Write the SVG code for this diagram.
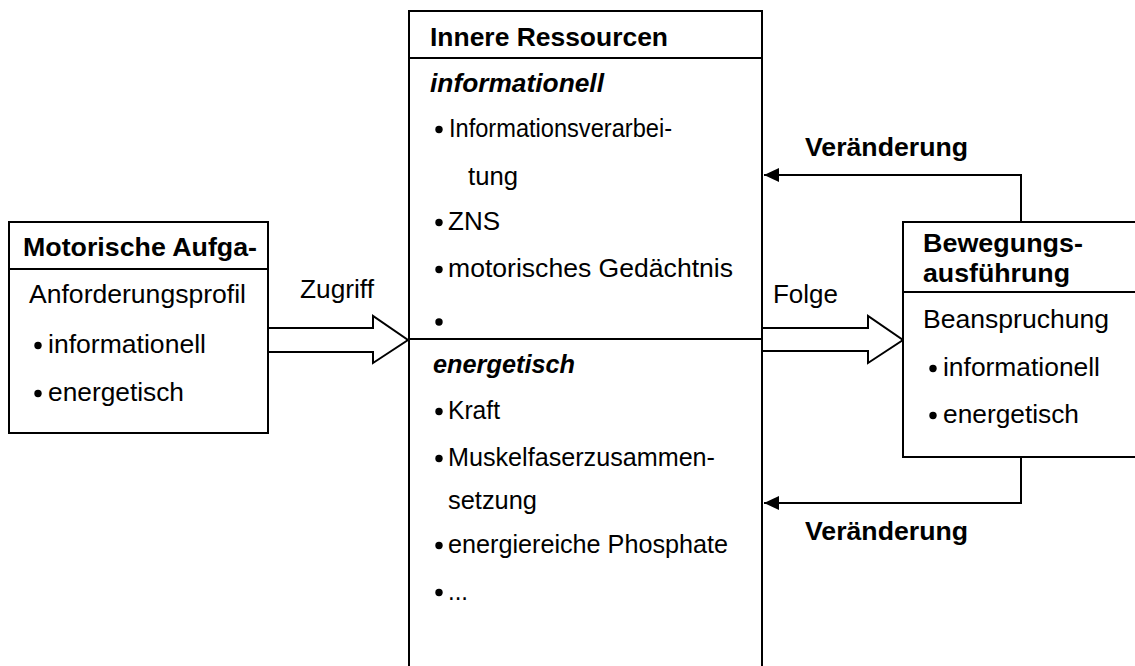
<svg xmlns="http://www.w3.org/2000/svg" width="1135" height="666" viewBox="0 0 1135 666">
<defs>
<style>
.box{fill:#fff;stroke:#000;stroke-width:2}
.ln{fill:none;stroke:#000;stroke-width:2}
.t{font-family:"Liberation Sans",Arial,sans-serif;font-size:26px;fill:#000}
.b{font-weight:bold}
.bi{font-weight:bold;font-style:italic}
.dot{fill:#000}
</style>
<marker id="ah" markerWidth="16" markerHeight="14" refX="15" refY="7" orient="auto" markerUnits="userSpaceOnUse">
<path d="M0,0 L15,7 L0,14 Z" fill="#000"/>
</marker>
</defs>
<rect width="1135" height="666" fill="#fff"/>
<g id="connectors">
<polygon class="box" points="268,328 373,328 373,316 408,340 373,363 373,352 268,352"/>
<text class="t" x="300" y="298" textLength="74" lengthAdjust="spacingAndGlyphs">Zugriff</text>
<polygon class="box" points="762,328 868,328 868,316 903,340 868,363 868,351 762,351"/>
<text class="t" x="773" y="303" textLength="65" lengthAdjust="spacingAndGlyphs">Folge</text>
<polyline class="ln" points="1021,222 1021,175 764,175" marker-end="url(#ah)"/>
<text class="t b" x="805" y="156" textLength="163" lengthAdjust="spacingAndGlyphs">Veränderung</text>
<polyline class="ln" points="1021,457 1021,503 764,503" marker-end="url(#ah)"/>
<text class="t b" x="805" y="540" textLength="163" lengthAdjust="spacingAndGlyphs">Veränderung</text>
</g>
<g id="motorische-aufgabe">
<rect class="box" x="9" y="222" width="259" height="211"/>
<line class="ln" x1="9" y1="269" x2="268" y2="269"/>
<text class="t b" x="23" y="256" textLength="234" lengthAdjust="spacingAndGlyphs">Motorische Aufga-</text>
<text class="t" x="29" y="303" textLength="217" lengthAdjust="spacingAndGlyphs">Anforderungsprofil</text>
<circle class="dot" cx="38" cy="345.5" r="3.7"/>
<text class="t" x="48" y="353" textLength="158" lengthAdjust="spacingAndGlyphs">informationell</text>
<circle class="dot" cx="38" cy="393.5" r="3.7"/>
<text class="t" x="48" y="401" textLength="136" lengthAdjust="spacingAndGlyphs">energetisch</text>
</g>
<g id="innere-ressourcen">
<rect class="box" x="409" y="11" width="353" height="680"/>
<line class="ln" x1="409" y1="58" x2="762" y2="58"/>
<line class="ln" x1="409" y1="339" x2="762" y2="339"/>
<text class="t b" x="430" y="46" textLength="238" lengthAdjust="spacingAndGlyphs">Innere Ressourcen</text>
<text class="t bi" x="430" y="92" textLength="174" lengthAdjust="spacingAndGlyphs">informationell</text>
<circle class="dot" cx="439" cy="129.5" r="3.7"/>
<text class="t" x="449" y="137" textLength="223" lengthAdjust="spacingAndGlyphs">Informationsverarbei-</text>
<text class="t" x="468" y="185" textLength="50" lengthAdjust="spacingAndGlyphs">tung</text>
<circle class="dot" cx="439" cy="222.5" r="3.7"/>
<text class="t" x="448" y="230" textLength="52" lengthAdjust="spacingAndGlyphs">ZNS</text>
<circle class="dot" cx="439" cy="269.5" r="3.7"/>
<text class="t" x="448" y="277" textLength="285" lengthAdjust="spacingAndGlyphs">motorisches Gedächtnis</text>
<circle class="dot" cx="439" cy="322" r="3.7"/>
<text class="t bi" x="433" y="373" textLength="142" lengthAdjust="spacingAndGlyphs">energetisch</text>
<circle class="dot" cx="439" cy="411.5" r="3.7"/>
<text class="t" x="448" y="419" textLength="52" lengthAdjust="spacingAndGlyphs">Kraft</text>
<circle class="dot" cx="439" cy="458.5" r="3.7"/>
<text class="t" x="448" y="466" textLength="267" lengthAdjust="spacingAndGlyphs">Muskelfaserzusammen-</text>
<text class="t" x="448" y="509" textLength="89" lengthAdjust="spacingAndGlyphs">setzung</text>
<circle class="dot" cx="439" cy="545.5" r="3.7"/>
<text class="t" x="448" y="553" textLength="280" lengthAdjust="spacingAndGlyphs">energiereiche Phosphate</text>
<circle class="dot" cx="439" cy="592.5" r="3.7"/>
<text class="t" x="448" y="600" textLength="20" lengthAdjust="spacingAndGlyphs">...</text>
</g>
<g id="bewegungsausfuehrung">
<rect class="box" x="903" y="222" width="250" height="235"/>
<line class="ln" x1="903" y1="292" x2="1140" y2="292"/>
<text class="t b" x="923" y="252" textLength="160" lengthAdjust="spacingAndGlyphs">Bewegungs-</text>
<text class="t b" x="923" y="282" textLength="147" lengthAdjust="spacingAndGlyphs">ausführung</text>
<text class="t" x="923" y="328" textLength="186" lengthAdjust="spacingAndGlyphs">Beanspruchung</text>
<circle class="dot" cx="933" cy="368.5" r="3.7"/>
<text class="t" x="943" y="376" textLength="157" lengthAdjust="spacingAndGlyphs">informationell</text>
<circle class="dot" cx="933" cy="415.5" r="3.7"/>
<text class="t" x="943" y="423" textLength="136" lengthAdjust="spacingAndGlyphs">energetisch</text>
</g>
</svg>
